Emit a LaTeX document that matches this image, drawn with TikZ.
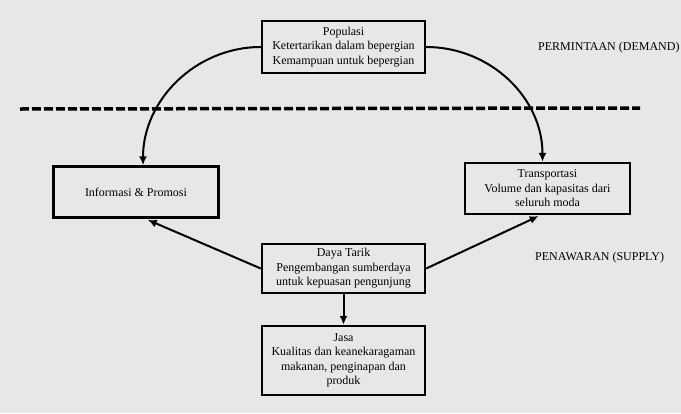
\documentclass[tikz,border=0pt]{standalone}
\usepackage{fontspec}
\setmainfont{Liberation Serif}
\usetikzlibrary{arrows.meta}
\definecolor{bggray}{RGB}{231,231,231}

\begin{document}
\begin{tikzpicture}[x=1pt, y=-1pt, font=\fontsize{12}{14.5}\selectfont,
        box/.style = {draw, line width=2.4pt, align=center, inner sep=2pt},
        arr/.style = {line width=2pt, -{Latex[length=9pt,width=8pt]}}]
        \fill[bggray] (0,0) rectangle (681,413);
        \useasboundingbox (0,0) rectangle (681,413);

        \node[box, minimum width=163pt, minimum height=52pt] (pop) at (343.5,47) {Populasi\\Ketertarikan dalam bepergian\\Kemampuan untuk bepergian};
        \node[box, minimum width=165pt, minimum height=51pt] (info) at (136,192) {Informasi \& Promosi};
        \node[box, minimum width=165pt, minimum height=51pt] (trans) at (547.5,188.5) {Transportasi\\Volume dan kapasitas dari\\seluruh moda};
        \node[box, minimum width=163pt, minimum height=49pt] (daya) at (343.5,268.5) {Daya Tarik\\Pengembangan sumberdaya\\untuk kepuasan pengunjung};
        \node[box, minimum width=163pt, minimum height=69pt] (jasa) at (343.5,360.5) {Jasa\\Kualitas dan keanekaragaman\\makanan, penginapan dan\\produk};

        \node[anchor=west, inner sep=0pt] (demand) at (538,48) {PERMINTAAN (DEMAND)};
        \node[anchor=west, inner sep=0pt] (supply) at (535,258) {PENAWARAN (SUPPLY)};

        \coordinate (dl) at (20,109);
        \coordinate (dr) at (640,108);
        \draw[line width=3.5pt, dash pattern=on 9pt off 3pt] (dl) -- (dr);

        \draw[arr] (pop.west) to[out=180, in=90] ([xshift=7pt]info.north);
        \draw[arr] (pop.east) to[out=0, in=90] ([xshift=-5pt]trans.north);

        \draw[arr, shorten >=3pt] (daya.west) -- ([xshift=9pt]info.south);
        \draw[arr, shorten >=2pt] (daya.east) -- ([xshift=-7pt]trans.south);
        \draw[arr] (daya.south) -- (jasa.north);
\end{tikzpicture}
\end{document}
